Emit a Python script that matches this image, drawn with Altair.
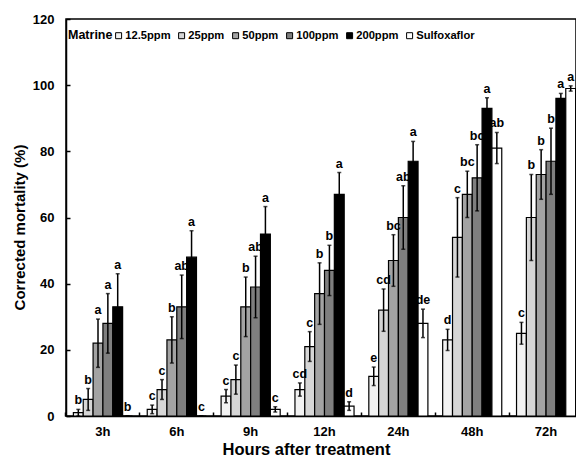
import altair as alt
import pandas as pd

hours = ["3h", "6h", "9h", "12h", "24h", "48h", "72h"]
treatments = ["12.5ppm", "25ppm", "50ppm", "100ppm", "200ppm", "Sulfoxaflor"]
colors = ["#f2f2f2", "#d6d6d6", "#a3a3a3", "#7f7f7f", "#000000", "#ffffff"]

means = {
    "12.5ppm": [1, 2, 6, 8, 12, 23, 25],
    "25ppm": [5, 8, 11, 21, 32, 54, 60],
    "50ppm": [22, 23, 33, 37, 47, 67, 73],
    "100ppm": [28, 33, 39, 44, 60, 72, 77],
    "200ppm": [33, 48, 55, 67, 77, 93, 96],
    "Sulfoxaflor": [0, 0, 2, 3, 28, 81, 99],
}
errors = {
    "12.5ppm": [1, 1.3, 2, 2, 2.8, 3.2, 3.3],
    "25ppm": [3.3, 3, 4.4, 4.5, 6.4, 12, 13],
    "50ppm": [7.3, 7, 9, 9.3, 7.8, 7, 7.5],
    "100ppm": [9, 9.6, 9.3, 7.6, 9.6, 10, 10],
    "200ppm": [10, 8, 8.3, 6.6, 6, 3.2, 1.5],
    "Sulfoxaflor": [0, 0, 0.8, 1.3, 4.3, 4.7, 0.8],
}
letters = {
    "12.5ppm": ["b", "c", "c", "cd", "e", "d", "c"],
    "25ppm": ["b", "c", "c", "c", "cd", "c", "b"],
    "50ppm": ["a", "b", "b", "b", "bc", "bc", "b"],
    "100ppm": ["a", "ab", "ab", "b", "ab", "bc", "b"],
    "200ppm": ["a", "a", "a", "a", "a", "a", "a"],
    "Sulfoxaflor": ["b", "c", "c", "d", "de", "ab", "a"],
}

rows = []
for t in treatments:
    for i, h in enumerate(hours):
        m = means[t][i]
        e = errors[t][i]
        rows.append({"hour": h, "treatment": t, "mean": m,
                     "lo": m - e, "hi": m + e, "letter": letters[t][i]})
df = pd.DataFrame(rows)

W, H = 510, 397
XR = 517
FONT = "Liberation Sans"
yticks = [0, 20, 40, 60, 80, 100, 120]

xscale = alt.Scale(domain=hours, paddingInner=0.2, paddingOuter=0.1, range=[0, XR])
xoff = alt.XOffset("treatment:N", sort=treatments,
                   scale=alt.Scale(domain=treatments, paddingInner=0, paddingOuter=0))
yscale = alt.Scale(domain=[0, 120], nice=False)

base = alt.Chart(df)

bars = base.mark_bar(stroke="black", strokeWidth=1.2).encode(
    x=alt.X("hour:N", sort=hours, scale=xscale,
            axis=alt.Axis(title="Hours after treatment", orient="bottom", ticks=False,
                          labelAngle=0, labelPadding=9, titlePadding=3,
                          titleX=240, titleAlign="center", titleAnchor="start",
                          domainColor="black", domainWidth=1.5,
                          labelFont=FONT, labelFontSize=13, labelFontWeight="bold",
                          labelColor="black", titleFont=FONT, titleFontSize=16.5,
                          titleFontWeight="bold", titleColor="black", grid=False)),
    xOffset=xoff,
    y=alt.Y("mean:Q", scale=yscale,
            axis=alt.Axis(title="Corrected mortality (%)", orient="left", ticks=False,
                          values=yticks, labelPadding=12, titlePadding=5,
                          titleY=208, titleAlign="center", titleAnchor="start",
                          domainColor="black", domainWidth=1.5,
                          labelFont=FONT, labelFontSize=13, labelFontWeight="bold",
                          labelColor="black", titleFont=FONT, titleFontSize=15,
                          titleFontWeight="bold", titleColor="black", grid=False)),
    fill=alt.Fill("treatment:N", sort=treatments,
                  scale=alt.Scale(domain=treatments, range=colors),
                  legend=alt.Legend(title="Matrine", orient="none", legendX=2, legendY=11,
                                    direction="horizontal", titleOrient="left",
                                    symbolType="square", symbolSize=36,
                                    symbolStrokeColor="black", symbolStrokeWidth=1,
                                    labelOffset=1, columnPadding=5, titlePadding=0,
                                    padding=0,
                                    labelFont=FONT, labelFontSize=11.2, labelFontWeight="bold",
                                    labelColor="black", titleFont=FONT, titleFontSize=12.5,
                                    titleFontWeight="bold", titleColor="black")),
)

rules = base.mark_rule(color="black", strokeWidth=1.5).encode(
    x=alt.X("hour:N", sort=hours, scale=xscale, axis=None),
    xOffset=xoff,
    y=alt.Y("lo:Q", scale=yscale, axis=None),
    y2="hi:Q",
)

caps_hi = base.mark_tick(color="black", thickness=1.5, size=4, orient="horizontal").encode(
    x=alt.X("hour:N", sort=hours, scale=xscale, axis=None),
    xOffset=xoff,
    y=alt.Y("hi:Q", scale=yscale, axis=None),
)
caps_lo = base.mark_tick(color="black", thickness=1.5, size=4, orient="horizontal").encode(
    x=alt.X("hour:N", sort=hours, scale=xscale, axis=None),
    xOffset=xoff,
    y=alt.Y("lo:Q", scale=yscale, axis=None),
)

texts = base.mark_text(font=FONT, fontSize=12.5, fontWeight="bold", color="black",
                       baseline="bottom", dy=-2).encode(
    x=alt.X("hour:N", sort=hours, scale=xscale,
            axis=alt.Axis(title=None, orient="top", offset=-H, labels=False, domain=False,
                          ticks=True, tickSize=4, tickColor="black", tickWidth=1.5,
                          bandPosition=-0.125, grid=False)),
    xOffset=xoff,
    y=alt.Y("hi:Q", scale=yscale,
            axis=alt.Axis(title=None, orient="right", offset=-W, labels=False, domain=False,
                          ticks=True, tickSize=4, tickColor="black", tickWidth=1.5,
                          values=yticks, grid=False)),
    text="letter:N",
)

chart = alt.layer(bars, rules, caps_hi, caps_lo, texts).resolve_axis(
    x="independent", y="independent"
).properties(
    width=W, height=H,
    autosize=alt.AutoSizeParams(type="none"),
    padding={"left": 58, "top": 11, "right": 0, "bottom": 43},
).configure_view(stroke="black", strokeWidth=1.5)

chart.save("out.html", embed_options={"renderer": "svg", "actions": False})
